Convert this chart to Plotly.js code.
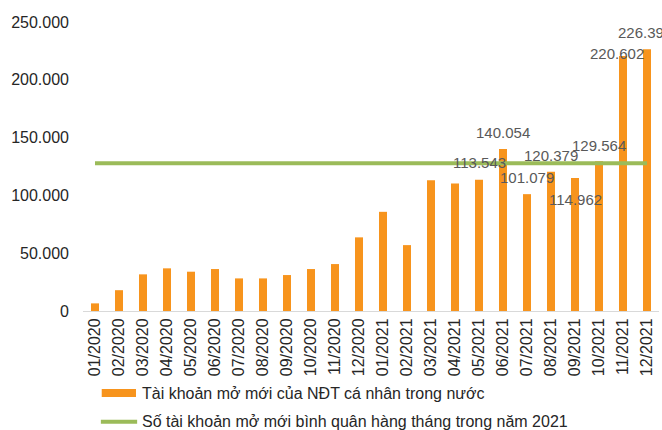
<!DOCTYPE html>
<html>
<head>
<meta charset="utf-8">
<script src="https://cdn.plot.ly/plotly-3.0.1.min.js"></script>
<style>html,body{margin:0;padding:0;background:#fff;}#chart{width:662px;height:430px;}</style>
</head>
<body>
<div id="chart"></div>
<script>
var months = ['01/2020','02/2020','03/2020','04/2020','05/2020','06/2020','07/2020','08/2020','09/2020','10/2020','11/2020','12/2020',
              '01/2021','02/2021','03/2021','04/2021','05/2021','06/2021','07/2021','08/2021','09/2021','10/2021','11/2021','12/2021'];
var newAccounts = [6600,18000,31700,36900,34000,36300,28200,28200,31100,36300,40600,63700,
                   85800,57000,113200,110300,113543,140054,101079,120379,114962,129564,220602,226390];
var avg2021 = [127750,127750,127750,127750,127750,127750,127750,127750,127750,127750,127750,127750,
               127750,127750,127750,127750,127750,127750,127750,127750,127750,127750,127750,127750];
var yTickVals = [0,50000,100000,150000,200000,250000];
var yTickText = ['0','50.000','100.000','150.000','200.000','250.000'];
var seriesNames = ['Tài khoản mở mới của NĐT cá nhân trong nước','Số tài khoản mở mới bình quân hàng tháng trong năm 2021'];
var labeledIdx = [16,17,18,19,20,21,22,23];
var labelShiftY = [17,17,17,16,-21,16,2,17];
var labelShiftX = [0,0,0,0,0,0,-6,-2];

function fmt(v){ return String(v).replace(/\B(?=(\d{3})+(?!\d))/g,'.'); }

var FONT = 'Arial, "Liberation Sans", sans-serif';
var ORANGE = '#F7941D', GREEN = '#9BBB59';

var traces = [
  {type:'bar', x:months, y:newAccounts, name:seriesNames[0], marker:{color:ORANGE}, showlegend:false, hoverinfo:'x+y'},
  {type:'scatter', mode:'lines', x:months, y:avg2021, name:seriesNames[1], line:{color:GREEN, width:4}, showlegend:false}
];

var annotations = labeledIdx.map(function(i,k){
  return {x:months[i], y:newAccounts[i], xref:'x', yref:'y', text:fmt(newAccounts[i]),
          showarrow:false, xanchor:'center', yanchor:'middle', yshift:labelShiftY[k], xshift:labelShiftX[k],
          font:{family:FONT, size:15, color:'#595959'}};
});
annotations.push({xref:'paper', yref:'paper', x:0.099, y:-0.287, xanchor:'left', yanchor:'middle', showarrow:false,
  text:seriesNames[0], font:{family:FONT, size:16, color:'#262626'}});
annotations.push({xref:'paper', yref:'paper', x:0.099, y:-0.384, xanchor:'left', yanchor:'middle', showarrow:false,
  text:seriesNames[1], font:{family:FONT, size:16, color:'#262626'}});

var shapes = [
  {type:'rect', xref:'paper', yref:'paper', x0:0.0325, x1:0.092, y0:-0.2976, y1:-0.2699, fillcolor:ORANGE, line:{width:0}},
  {type:'line', xref:'paper', yref:'paper', x0:0.031, x1:0.094, y0:-0.383, y1:-0.383, line:{color:GREEN, width:4}}
];

var layout = {
  width:662, height:430,
  margin:{l:83, r:3, t:22, b:119, pad:0, autoexpand:false},
  paper_bgcolor:'#fff', plot_bgcolor:'#fff',
  bargap:0.667,
  showlegend:false,
  font:{family:FONT, size:16, color:'#262626'},
  xaxis:{type:'category', range:[-0.5,23.5], tickangle:-90, showgrid:false, zeroline:false, showline:true, linecolor:'#D9D9D9', linewidth:1,
         ticks:'', ticklabelstandoff:0, automargin:false, tickfont:{family:FONT, size:16, color:'#262626'}, fixedrange:true},
  yaxis:{range:[0,250000], tickvals:yTickVals, ticktext:yTickText, showgrid:false, zeroline:false, showline:false,
         ticks:'', ticklabelstandoff:13, automargin:false, tickfont:{family:FONT, size:16, color:'#262626'}, fixedrange:true},
  annotations:annotations,
  shapes:shapes
};

Plotly.newPlot('chart', traces, layout, {displayModeBar:false, staticPlot:true});
</script>
</body>
</html>
